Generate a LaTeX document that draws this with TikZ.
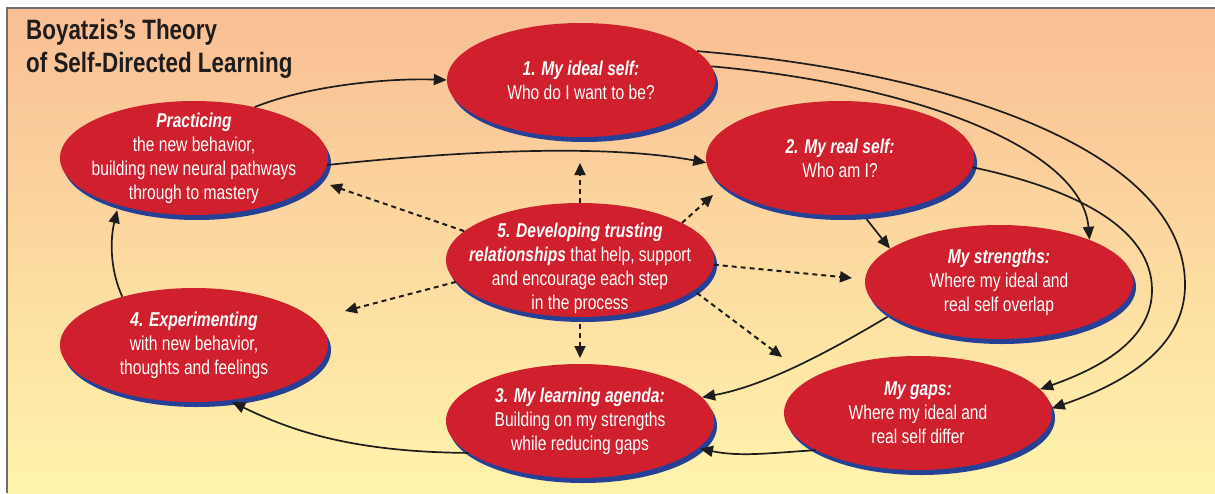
\documentclass[tikz,border=0pt]{standalone}
\usepackage{fontspec}
\setmainfont{Liberation Sans}[FakeStretch=0.78]
\newfontfamily\titlefont{Liberation Sans}[FakeStretch=0.8]
\usetikzlibrary{shapes.geometric,arrows.meta,shadows}
\definecolor{redE}{RGB}{208,31,45}
\definecolor{blueE}{RGB}{38,64,150}
\definecolor{bgtop}{RGB}{249,190,148}
\definecolor{bgmid}{RGB}{252,214,156}
\definecolor{bgbot}{RGB}{255,244,172}
\definecolor{framecol}{RGB}{110,110,110}
\definecolor{inkcol}{RGB}{30,28,28}
\newcommand\ehead[1]{\textbf{\textit{#1}}}
\begin{document}
\begin{tikzpicture}[x=1pt,y=-1pt,
  etext/.style={text=white, align=center, inner sep=0pt, font=\fontsize{20}{24}\selectfont},
  ell/.style={etext, ellipse, inner sep=-60pt, minimum width=268pt, minimum height=114pt, fill=redE,
    drop shadow={shadow xshift=3pt, shadow yshift=-5pt, fill=blueE, opacity=1}},
  conn/.style={draw=inkcol, line width=1.7pt, -{Triangle[length=13pt,width=11pt]}},
  dconn/.style={draw=inkcol, line width=2pt, dash pattern=on 5pt off 4pt, -{Triangle[length=12pt,width=11pt]}}]
\useasboundingbox (0,0) rectangle (1215,493);
\shade[top color=bgtop, middle color=bgmid, bottom color=bgbot] (7,8) rectangle (1215,493);
\draw[framecol, line width=1.6pt] (7,493) -- (7,8) -- (1215,8);

\node[anchor=north west, align=left, inner sep=0pt, text=inkcol,
  font=\titlefont\fontsize{28}{33}\selectfont\bfseries] (title) at (26,19)
  {Boyatzis’s Theory\\of Self-Directed Learning};

% ellipses
\node[ell] (ideal) at (581,80) {\ehead{1. My ideal self:}\\Who do I want to be?};
\node[ell] (real) at (840,158) {\ehead{2. My real self:}\\Who am I?};
\node[ell] (prac) at (194,158) {\ehead{Practicing}\\the new behavior,\\building new neural pathways\\through to mastery};
\node[ell] (dev) at (580,260) {};
\node[etext] (devt) at (580,268) {\ehead{5. Developing trusting}\\\ehead{relationships} that help, support\\and encourage each step\\in the process};
\node[ell] (str) at (999,282) {\ehead{My strengths:}\\Where my ideal and\\real self overlap};
\node[ell] (exper) at (194,345) {\ehead{4. Experimenting}\\with new behavior,\\thoughts and feelings};
\node[ell] (learn) at (580,421) {\ehead{3. My learning agenda:}\\Building on my strengths\\while reducing gaps};
\node[ell] (gaps) at (918,413) {\ehead{My gaps:}\\Where my ideal and\\real self differ};

% solid connectors
\draw[conn] (prac.40) .. controls (310,85) and (390,78) .. (ideal.west);
\draw[conn] (prac.-3) .. controls (450,152) and (600,143) .. (real.182);
\draw[conn] (ideal.6) .. controls (920,85) and (1082,150) .. (str.25);
\draw[conn] (ideal.14) .. controls (950,72) and (1185,150) .. (1185,285)
   .. controls (1185,350) and (1120,385) .. (gaps.2);
\draw[conn] (real.-4) .. controls (1080,190) and (1152,230) .. (1152,290)
   .. controls (1152,340) and (1100,368) .. (gaps.11);
\draw[conn, shorten <=6pt] (real.-68) -- (str.163);
\draw[conn, shorten <=3pt] (str.197) .. controls (840,345) and (770,385) .. (learn.11);
\draw[conn, shorten >=2pt] (gaps.200) .. controls (770,453) and (740,457) .. (learn.-13);
\draw[conn, shorten >=4pt] (learn.196) .. controls (350,452) and (290,430) .. (exper.-58);
\draw[conn, shorten >=5pt] (exper.146) .. controls (110,270) and (110,240) .. (prac.212);

% dashed connectors
\coordinate (dU) at (580,163);
\coordinate (dP) at (330,185);
\coordinate (dR) at (713,195);
\coordinate (dS) at (852,278);
\coordinate (dE) at (345,311);
\coordinate (dL) at (580,358);
\coordinate (dG) at (782,357);
\draw[dconn] (dev.90) -- (dU);
\draw[dconn] (dev.166) -- (dP);
\draw[dconn] (dev.20) -- (dR);
\draw[dconn] (dev.-2) -- (dS);
\draw[dconn] (dev.190) -- (dE);
\draw[dconn, shorten <=7pt] (dev.270) -- (dL);
\draw[dconn, shorten <=4pt] (dev.-15) -- (dG);
\end{tikzpicture}
\end{document}
